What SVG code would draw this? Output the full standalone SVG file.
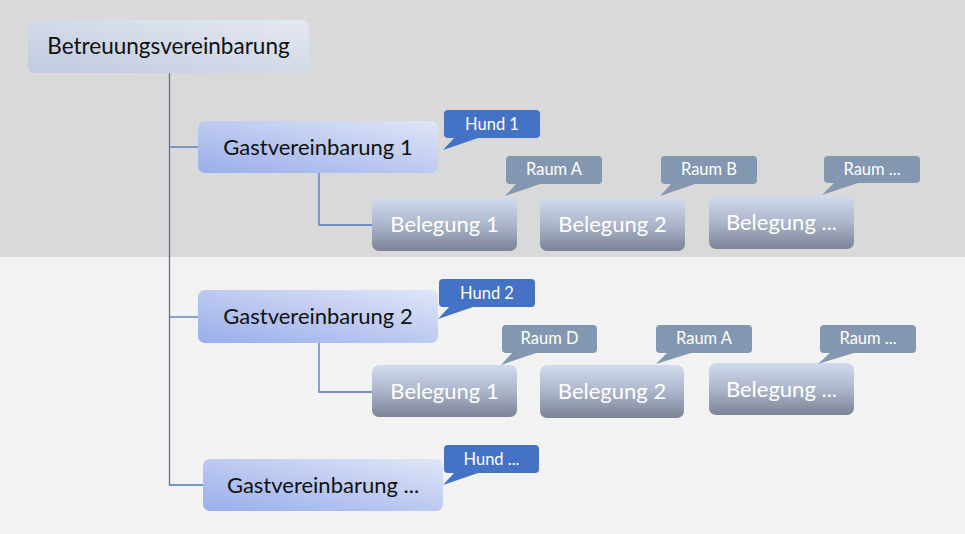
<svg xmlns="http://www.w3.org/2000/svg" width="965" height="534" viewBox="0 0 965 534">
<defs>
<linearGradient id="gRoot" x1="0" y1="1" x2="1" y2="0">
<stop offset="0" stop-color="#c0cadf"/>
<stop offset="1" stop-color="#e5e9f1"/>
</linearGradient>
<linearGradient id="gGast" x1="0" y1="1" x2="1" y2="0">
<stop offset="0" stop-color="#99adea"/>
<stop offset="1" stop-color="#e0e6f7"/>
</linearGradient>
<linearGradient id="gBel" x1="0" y1="0" x2="0" y2="1">
<stop offset="0" stop-color="#d2dbec"/>
<stop offset="0.5" stop-color="#acb5ca"/>
<stop offset="1" stop-color="#7c8396"/>
</linearGradient>
<style>
.root{fill:url(#gRoot)}
.gast{fill:url(#gGast)}
.bel{fill:url(#gBel)}
.hund{fill:#4472c4}
.raum{fill:#8497b0}
.t{font-family:Lato,"Open Sans","Liberation Sans",sans-serif;text-anchor:middle}
.tb{font-size:22.5px;fill:#111}
.tg{font-size:22px;fill:#111}
.tl{font-size:22px;fill:#fff}
.ts{font-size:16.5px;fill:#fff}
.con{fill:none;stroke:#4a76bf;stroke-width:1.3}
</style>
</defs>
<rect x="0" y="0" width="965" height="257" fill="#d9d9d9"/>
<rect x="0" y="257" width="965" height="277" fill="#f2f2f2"/>
<g id="connectors">
<path class="con" d="M169.5 73 V485 H203"/>
<path class="con" d="M169.5 147 H198"/>
<path class="con" d="M169.5 317 H198"/>
<path class="con" d="M319 173 V225 H372"/>
<path class="con" d="M319 343 V392 H372"/>
</g>
<g id="betreuung"><rect class="root" x="28" y="20" width="281" height="53" rx="7"/><text class="t tb" x="168.5" y="54">Betreuungsvereinbarung</text></g>
<g id="gast1"><rect class="gast" x="198" y="121" width="240" height="52" rx="7"/><text class="t tg" x="318" y="155">Gastvereinbarung 1</text></g>
<g id="hund1"><rect class="hund" x="444" y="110" width="96" height="28" rx="4"/><polygon class="hund" points="455,137 481,137 443,150"/><text class="t ts" x="492" y="130">Hund 1</text></g>
<g id="bel11"><rect class="bel" x="372" y="198" width="145" height="53" rx="7"/><text class="t tl" x="444.5" y="232">Belegung 1</text></g>
<g id="bel12"><rect class="bel" x="540" y="198" width="145" height="53" rx="7"/><text class="t tl" x="612.5" y="232">Belegung 2</text></g>
<g id="bel13"><rect class="bel" x="709" y="196" width="145" height="53" rx="7"/><text class="t tl" x="781.5" y="230">Belegung ...</text></g>
<g id="raumA1"><rect class="raum" x="506" y="156" width="96" height="28" rx="4"/><polygon class="raum" points="517,183 543,183 505,196"/><text class="t ts" x="554" y="175">Raum A</text></g>
<g id="raumB1"><rect class="raum" x="661" y="156" width="96" height="28" rx="4"/><polygon class="raum" points="672,183 698,183 660,196"/><text class="t ts" x="709" y="175">Raum B</text></g>
<g id="raumX1"><rect class="raum" x="824" y="156" width="96" height="27" rx="4"/><polygon class="raum" points="835,182 861,182 822,195"/><text class="t ts" x="872" y="175">Raum ...</text></g>
<g id="gast2"><rect class="gast" x="198" y="290" width="240" height="53" rx="7"/><text class="t tg" x="318" y="324">Gastvereinbarung 2</text></g>
<g id="hund2"><rect class="hund" x="439" y="279" width="96" height="28" rx="4"/><polygon class="hund" points="450,306 476,306 438,319"/><text class="t ts" x="487" y="299">Hund 2</text></g>
<g id="bel21"><rect class="bel" x="372" y="365" width="145" height="52" rx="7"/><text class="t tl" x="444.5" y="399">Belegung 1</text></g>
<g id="bel22"><rect class="bel" x="540" y="365" width="144" height="53" rx="7"/><text class="t tl" x="612" y="399">Belegung 2</text></g>
<g id="bel23"><rect class="bel" x="709" y="363" width="145" height="52" rx="7"/><text class="t tl" x="781.5" y="397">Belegung ...</text></g>
<g id="raumD2"><rect class="raum" x="502" y="325" width="95" height="28" rx="4"/><polygon class="raum" points="513,352 539,352 501,365"/><text class="t ts" x="549.5" y="344">Raum D</text></g>
<g id="raumA2"><rect class="raum" x="656" y="325" width="96" height="28" rx="4"/><polygon class="raum" points="668,352 694,352 656,364"/><text class="t ts" x="704" y="344">Raum A</text></g>
<g id="raumX2"><rect class="raum" x="820" y="325" width="96" height="28" rx="4"/><polygon class="raum" points="831,352 857,352 818,364"/><text class="t ts" x="868" y="344">Raum ...</text></g>
<g id="gast3"><rect class="gast" x="203" y="459" width="240" height="52" rx="7"/><text class="t tg" x="323" y="493">Gastvereinbarung ...</text></g>
<g id="hund3"><rect class="hund" x="444" y="445" width="95" height="28" rx="4"/><polygon class="hund" points="455,472 481,472 443,485"/><text class="t ts" x="491.5" y="465">Hund ...</text></g>
</svg>
